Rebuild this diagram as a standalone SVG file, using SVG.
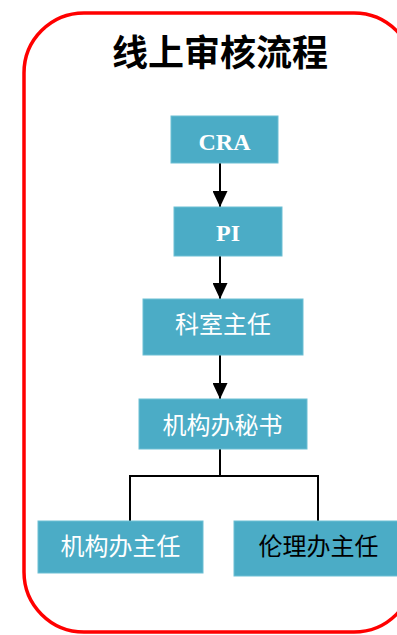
<svg xmlns="http://www.w3.org/2000/svg" width="397" height="635" viewBox="0 0 397 635">
<style>
.box{fill:#4BACC6;stroke:#6CBFD4;stroke-width:1}
.cjk{font-family:"Noto Sans CJK SC","Noto Sans",sans-serif;font-size:24px;text-anchor:middle}
.lat{font-family:"Liberation Serif",serif;font-weight:bold;font-size:24px;text-anchor:middle;fill:#fff}
.w{fill:#fff}
.k{fill:#000}
.ln{stroke:#000;stroke-width:2;fill:none}
</style>
<defs>
<marker id="ah" markerUnits="userSpaceOnUse" markerWidth="16" markerHeight="15" refX="16" refY="7.5" orient="auto" viewBox="0 0 16 15">
<path d="M0,0 L16,7.5 L0,15 Z" fill="#000"/>
</marker>
</defs>
<rect x="24" y="13" width="390" height="619" rx="60" ry="60" fill="#fff" stroke="#FF0000" stroke-width="3.5"/>
<text x="220" y="66" font-family="'Noto Sans CJK SC',sans-serif" font-size="36" font-weight="bold" text-anchor="middle" fill="#000">线上审核流程</text>
<g id="connectors">
<line class="ln" x1="220" y1="163" x2="220" y2="207" marker-end="url(#ah)"/>
<line class="ln" x1="220" y1="256" x2="220" y2="299" marker-end="url(#ah)"/>
<line class="ln" x1="220" y1="355" x2="220" y2="399" marker-end="url(#ah)"/>
<polyline class="ln" points="220,449 220,476"/>
<polyline class="ln" points="130,522 130,476 318,476 318,522"/>
</g>
<g id="cra"><rect class="box" x="171" y="116" width="107" height="47"/><text class="lat" x="224.5" y="149.5">CRA</text></g>
<g id="pi"><rect class="box" x="174" y="207" width="108" height="49"/><text class="lat" x="228" y="240.5">PI</text></g>
<g id="kszr"><rect class="box" x="143" y="299" width="160" height="56"/><text class="cjk w" x="223" y="333">科室主任</text></g>
<g id="jgbms"><rect class="box" x="139" y="399" width="168" height="50"/><text class="cjk w" x="222.5" y="434">机构办秘书</text></g>
<g id="jgbzr"><rect class="box" x="38" y="521" width="165" height="52"/><text class="cjk w" x="120.5" y="555">机构办主任</text></g>
<g id="llbzr"><rect class="box" x="234" y="521" width="170" height="55"/><text class="cjk k" x="318.5" y="555">伦理办主任</text></g>
</svg>
